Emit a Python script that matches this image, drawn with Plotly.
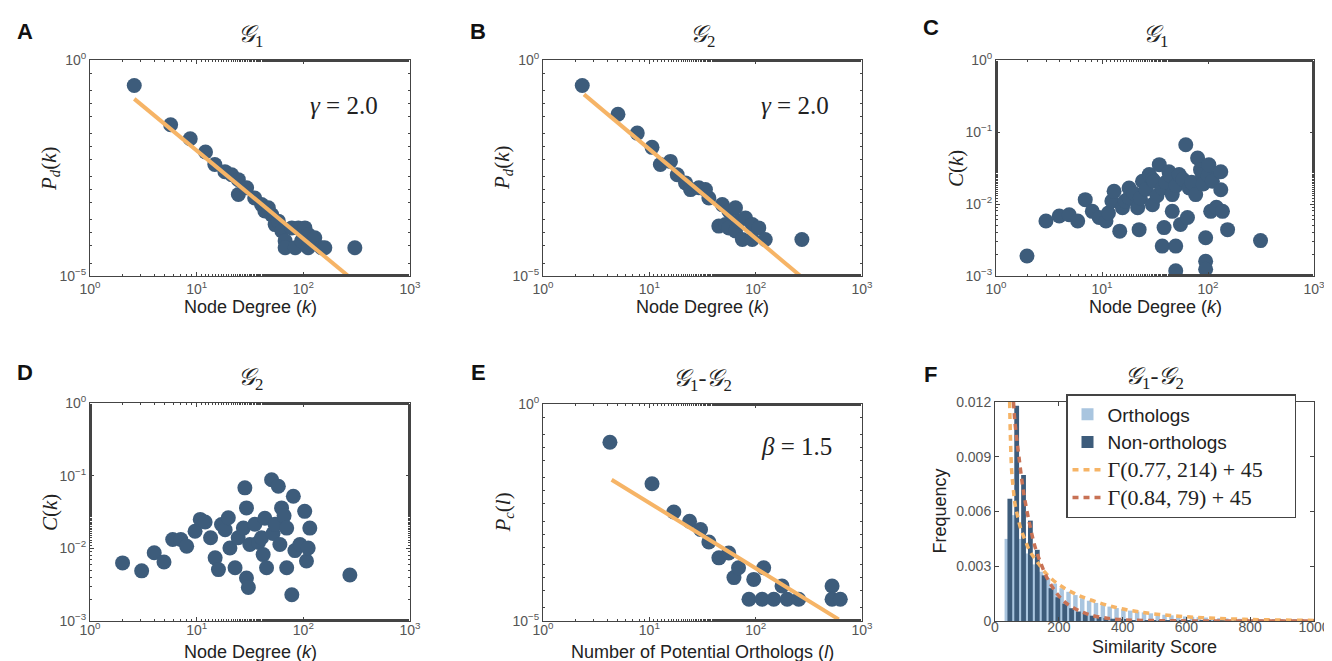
import plotly.graph_objects as go

W, H = 1332, 661

# ---------------- data ----------------
# Panel A: G1 degree distribution
a_k = [2.6, 5.7, 8.7, 12.1, 14.8, 18.4, 21.3, 24.6, 24.6, 29.4, 35.0, 40.6, 43.6, 47, 50.6, 54.4,
       58.3, 62.9, 67.5, 67.5, 78, 83.9, 89.8, 96.5, 103.5, 111, 111, 128, 148, 159, 304]
a_p = [0.256, 0.0317, 0.0150, 0.0074, 0.0038, 0.0026, 0.0022, 0.0017, 7.7e-4, 0.0011, 6.4e-4, 4.5e-4,
       3.2e-4, 3.8e-4, 2.6e-4, 1.55e-4, 1.86e-4, 1.1e-4, 6.5e-5, 4.5e-5, 1.3e-4, 4.5e-5, 1.3e-4, 6.5e-5,
       1.3e-4, 9.1e-5, 4.5e-5, 7.7e-5, 4.5e-5, 4.5e-5, 4.5e-5]
a_fit_k = [2.6, 264]
a_fit_p = [0.126, 1.0e-5]

# Panel B: G2 degree distribution
b_k = [2.34, 5.07, 7.7, 10.6, 12.7, 15.8, 18.3, 21.9, 24.4, 29.2, 33.7, 36.3, 45, 48.5, 52, 56, 56,
       64.6, 64.6, 69.5, 75, 80.3, 92.8, 92.8, 107, 123, 272]
b_p = [0.256, 0.0557, 0.0203, 0.0095, 0.0038, 0.0045, 0.0022, 0.00143, 1.0e-3, 1.1e-3, 1.0e-3, 6.4e-4,
       1.43e-4, 4.5e-4, 1.55e-4, 3.2e-4, 1.3e-4, 3.8e-4, 1.1e-4, 1.86e-4, 7.0e-5, 2.2e-4, 1.55e-4, 7.0e-5,
       1.3e-4, 7.0e-5, 7.0e-5]
b_fit_k = [2.43, 264]
b_fit_p = [0.16, 1.0e-5]

# Panel C: G1 clustering
c_k = [1.96, 2.96, 3.95, 4.9, 5.9, 6.95, 8.1, 9.4, 10.9, 11.5, 12.4, 13.0, 14.7, 15.6, 16.5, 18.0, 18.0,
       20, 21.7, 22.4, 23, 24.1, 26, 27.9, 29.9, 30, 31, 33, 34.7, 37, 37, 38.5, 40, 42.8, 44, 46, 46,
       49.6, 49.6, 50, 53.4, 55, 58, 61.7, 64, 66.5, 70, 76.5, 79.8, 85, 88.5, 90, 95, 95, 95, 100, 102,
       106, 110, 120, 132, 132, 137, 153, 313]
c_c = [0.0019, 0.0058, 0.0068, 0.0071, 0.0058, 0.0115, 0.0079, 0.0065, 0.0058, 0.0075, 0.011, 0.015,
       0.0042, 0.0089, 0.011, 0.0122, 0.0167, 0.014, 0.0089, 0.0044, 0.012, 0.0207, 0.016, 0.0256, 0.0098,
       0.022, 0.0207, 0.013, 0.0352, 0.0167, 0.0026, 0.0047, 0.020, 0.028, 0.025, 0.0135, 0.0079, 0.0026,
       0.00118, 0.018, 0.0256, 0.0052, 0.022, 0.0665, 0.0065, 0.0167, 0.020, 0.0135, 0.0435, 0.030,
       0.0256, 0.019, 0.0034, 0.0016, 0.00124, 0.025, 0.035, 0.0079, 0.0207, 0.009, 0.028, 0.0158, 0.0079,
       0.0044, 0.0031]

# Panel D: G2 clustering
d_k = [2.02, 3.05, 4.0, 4.94, 5.96, 7.1, 8.06, 9.66, 10.8, 12, 13.5, 14.9, 16, 17.1, 18.5, 19.8, 20.5,
       22.9, 24.5, 27.4, 28.3, 29.3, 29.3, 30.5, 31.5, 35.1, 38, 40.6, 42, 43.6, 45.2, 50.4, 52, 54.3,
       58.3, 60.3, 62.5, 66, 69.8, 69.8, 78, 80.6, 83.4, 92.9, 103, 107, 111, 115, 273]
d_c = [0.0063, 0.0049, 0.0087, 0.0065, 0.0132, 0.0132, 0.0107, 0.0172, 0.025, 0.023, 0.014, 0.0074,
       0.0051, 0.0213, 0.018, 0.0263, 0.0101, 0.0054, 0.014, 0.019, 0.068, 0.036, 0.0039, 0.0029, 0.0113,
       0.0214, 0.012, 0.014, 0.0082, 0.026, 0.0054, 0.088, 0.016, 0.0214, 0.0716, 0.0113, 0.036, 0.028,
       0.019, 0.0054, 0.0023, 0.052, 0.0093, 0.0113, 0.0323, 0.0067, 0.0101, 0.019, 0.0043]

# Panel E: candidate orthologs distribution
e_l = [4.26, 10.6, 17, 23.9, 30.3, 36.3, 45.1, 55.8, 62.5, 69, 86.5, 95.9, 115, 119, 148, 177, 198,
       254, 523, 523, 625]
e_p = [0.131, 0.0145, 0.00325, 0.00198, 0.00128, 6.6e-4, 2.85e-4, 3.7e-4, 1.0e-4, 1.68e-4, 3.16e-5,
       9.1e-5, 3.16e-5, 1.68e-4, 3.16e-5, 6.4e-5, 3.16e-5, 3.16e-5, 6.4e-5, 3.16e-5, 3.16e-5]
e_fit_l = [4.42, 604]
e_fit_p = [0.018, 1.09e-5]

# Panel F: similarity score histograms
f_bins = [46 + 21.5 * i for i in range(45)]
f_orth = [4.5, 5.8, 4.5, 3.7, 3.1, 2.7, 2.35, 2.05, 1.8, 1.6, 1.42, 1.25, 1.11, 0.99, 0.88, 0.79,
          0.71, 0.64, 0.57, 0.52, 0.47, 0.42, 0.38, 0.34, 0.31, 0.28, 0.25, 0.23, 0.21, 0.19, 0.17,
          0.155, 0.14, 0.13, 0.12, 0.11, 0.1, 0.09, 0.085, 0.08, 0.075, 0.07, 0.065, 0.06, 0.055]
f_non = [6.7, 11.8, 8.0, 5.5, 3.9, 2.5, 1.8, 1.3, 0.95, 0.7, 0.52, 0.39, 0.29, 0.22, 0.165, 0.125,
         0.095, 0.072, 0.055, 0.042, 0.032, 0.024, 0.018, 0.014, 0.011, 0.008, 0.006, 0.005, 0.004,
         0.003, 0.0025, 0.002, 0.0015, 0.001, 0.001, 0.001, 0.001, 0.001, 0.001, 0.0005, 0.0005,
         0.0005, 0.0005, 0.0005, 0.0005]
f_orth = [v / 1000 for v in f_orth]
f_non = [v / 1000 for v in f_non]
f_g1_x = [46, 48, 52, 57, 62, 70, 80, 95, 110, 130, 160, 200, 250, 300, 370, 450, 550, 650, 750, 850, 1000]
f_g1_y = [12.0, 10.3, 8.3, 7.3, 6.5, 5.8, 5.1, 4.4, 3.8, 3.3, 2.6, 2.0, 1.5, 1.15, 0.78, 0.5, 0.3,
          0.18, 0.11, 0.067, 0.032]
f_g2_x = [58, 62, 68, 75, 85, 95, 110, 125, 145, 165, 190, 215, 250, 290, 340, 400, 470, 560, 660, 800, 1000]
f_g2_y = [12.0, 11.0, 10.0, 9.0, 7.6, 6.5, 5.2, 4.1, 3.1, 2.3, 1.6, 1.1, 0.68, 0.38, 0.18, 0.07, 0.03,
          0.01, 0.004, 0.001, 0.0]
f_g1_y = [v / 1000 for v in f_g1_y]
f_g2_y = [v / 1000 for v in f_g2_y]

panel_letters = ["A", "B", "C", "D", "E", "F"]

# ---------------- styling ----------------
DOT = "#3d5c7b"
LIGHT = "#a9c5df"
ORANGE = "#f6b466"
RED = "#c87255"
AXC = "#444444"
TICKC = "#555555"
SANS = "Liberation Sans, Arial, sans-serif"
SERIF = "Liberation Serif, Times New Roman, serif"

# plot-area pixel boxes (left, top, right, bottom)
boxes = [
    (82, 52, 402, 268), (535, 52, 854, 268), (988, 52, 1306, 268),
    (82, 395, 402, 613), (535, 396, 854, 613), (987, 394, 1306, 613),
]


def dom(b):
    l, t, r, bt = b
    return [l / W, r / W], [1 - bt / H, 1 - t / H]


fig = go.Figure()

axis_ids = [("x", "y"), ("x2", "y2"), ("x3", "y3"), ("x4", "y4"), ("x5", "y5"), ("x6", "y6")]


def sc(x, y, ax):
    fig.add_trace(go.Scatter(x=x, y=y, mode="markers", xaxis=ax[0], yaxis=ax[1], showlegend=False,
                             marker=dict(size=15, color=DOT, line=dict(width=0))))


def fit(x, y, ax):
    fig.add_trace(go.Scatter(x=x, y=y, mode="lines", xaxis=ax[0], yaxis=ax[1], showlegend=False,
                             line=dict(color=ORANGE, width=4)))


sc(a_k, a_p, axis_ids[0]); fit(a_fit_k, a_fit_p, axis_ids[0])
sc(b_k, b_p, axis_ids[1]); fit(b_fit_k, b_fit_p, axis_ids[1])
sc(c_k, c_c, axis_ids[2])
sc(d_k, d_c, axis_ids[3])
sc(e_l, e_p, axis_ids[4]); fit(e_fit_l, e_fit_p, axis_ids[4])

fig.add_trace(go.Bar(x=f_bins, y=f_orth, name="Orthologs", xaxis="x6", yaxis="y6",
                     marker=dict(color=LIGHT, line=dict(width=0)), width=14, offset=-16))
fig.add_trace(go.Bar(x=f_bins, y=f_non, name="Non-orthologs", xaxis="x6", yaxis="y6",
                     marker=dict(color=DOT, line=dict(width=0)), width=15, offset=-7))
SER = '<span style="font-family:Liberation Serif;font-size:22px">%s</span>'
fig.add_trace(go.Scatter(x=f_g1_x, y=f_g1_y, mode="lines", xaxis="x6", yaxis="y6",
                         name=SER % "Γ(0.77, 214) + 45" + "&nbsp;" * 5,
                         line=dict(color=ORANGE, width=3.5, dash="6px,5px", shape="spline")))
fig.add_trace(go.Scatter(x=f_g2_x, y=f_g2_y, mode="lines", xaxis="x6", yaxis="y6",
                         name=SER % "Γ(0.84, 79) + 45",
                         line=dict(color=RED, width=3.5, dash="6px,5px", shape="spline")))

sup = lambda e: "10<sup>%s</sup>" % e
common = dict(showline=True, linecolor=AXC, linewidth=1, mirror="allticks", ticks="inside",
              ticklen=4, tickcolor=AXC, showgrid=False, zeroline=False,
              tickfont=dict(family=SANS, size=14, color=TICKC))

layout = dict(width=W, height=H, paper_bgcolor="white", plot_bgcolor="white",
              margin=dict(l=0, r=0, t=0, b=0, autoexpand=False), barmode="overlay",
              showlegend=True)

yr = [(-5, 0), (-5, 0), (-3, 0), (-3, 0), (-5, 0)]
for i in range(5):
    xd, yd = dom(boxes[i])
    sx = "" if i == 0 else str(i + 1)
    lo, hi = yr[i]
    if hi - lo == 5:
        yv = [1, 1e-5]; yt = [sup(0), sup("−5")]
    else:
        yv = [1, 0.1, 0.01, 0.001]; yt = [sup(0), sup("−1"), sup("−2"), sup("−3")]
    layout["xaxis" + sx] = dict(common, domain=xd, type="log", range=[0, 3], anchor="y" + sx,
                                tickvals=[1, 10, 100, 1000], ticktext=[sup(0), sup(1), sup(2), sup(3)],
                                ticklabelstandoff=(0 if i < 3 else -4),
                                minor=dict(ticks="inside", ticklen=2, tickcolor=AXC))
    layout["yaxis" + sx] = dict(common, domain=yd, type="log", range=[lo, hi], anchor="x" + sx,
                                tickvals=yv, ticktext=yt,
                                minor=dict(ticks="inside", ticklen=2, tickcolor=AXC))

xd, yd = dom(boxes[5])
layout["xaxis6"] = dict(common, domain=xd, range=[0, 1000], anchor="y6",
                        tickvals=[0, 200, 400, 600, 800, 1000], ticklabelstandoff=-7,
                        tickfont=dict(family=SANS, size=14, color=TICKC))
layout["yaxis6"] = dict(common, domain=yd, range=[0, 0.012], anchor="x6",
                        tickvals=[0, 0.003, 0.006, 0.009, 0.012],
                        ticktext=["0", "0.003", "0.006", "0.009", "0.012"],
                        tickfont=dict(family=SANS, size=14, color=TICKC))
layout["legend"] = dict(x=1058 / W, y=1 - 386 / H, xanchor="left", yanchor="top",
                        bgcolor="white", bordercolor=AXC, borderwidth=1.5,
                        font=dict(family=SANS, size=19, color="#222"), itemwidth=30,
                        tracegroupgap=0)

fig.update_layout(**layout)

ann = []


def text(x, y, s, size, family=SANS, angle=0, color="#222"):
    ann.append(dict(x=x / W, y=1 - y / H, xref="paper", yref="paper", text=s, showarrow=False,
                    xanchor="center", yanchor="middle", textangle=angle,
                    font=dict(family=family, size=size, color=color)))


# panel letters
for (px, py), L in zip([(17, 23), (470, 23), (923, 20), (17, 364), (470, 365), (922, 366)], panel_letters):
    text(px, py, "<b>%s</b>" % L, 22, SANS, color="#111")

# titles
G1 = "<i>𝒢</i><sub>1</sub>"
G2 = "<i>𝒢</i><sub>2</sub>"
titles = [G1, G2, G1, G2, G1 + "-" + G2, G1 + "-" + G2]
for b, t in zip(boxes, titles):
    text((b[0] + b[2]) / 2, b[1] - 24, t, 24, SERIF)

# axis titles
xt = ["Node Degree (<i>k</i>)"] * 4 + ["Number of Potential Orthologs (<i>l</i>)", "Similarity Score"]
xoff = [31, 31, 31, 31, 31, 26]
for b, t, o in zip(boxes, xt, xoff):
    text((b[0] + b[2]) / 2, b[3] + o, t, 18, SANS)
yt_ = ["<i>P<sub>d</sub></i>(<i>k</i>)", "<i>P<sub>d</sub></i>(<i>k</i>)", "<i>C</i>(<i>k</i>)",
       "<i>C</i>(<i>k</i>)", "<i>P<sub>c</sub></i>(<i>l</i>)"]
for b, t in zip(boxes[:5], yt_):
    text(b[0] - 40, (b[1] + b[3]) / 2, t, 21, SERIF, angle=-90)
text(boxes[5][0] - 56, (boxes[5][1] + boxes[5][3]) / 2, "Frequency", 18, SANS, angle=-90)

# exponents
text(336, 97, "<i>γ</i> = 2.0", 25, SERIF)
text(787, 97, "<i>γ</i> = 2.0", 25, SERIF)
text(789, 438, "<i>β</i> = 1.5", 25, SERIF)

fig.update_layout(annotations=ann)
fig.write_html("out.html")
